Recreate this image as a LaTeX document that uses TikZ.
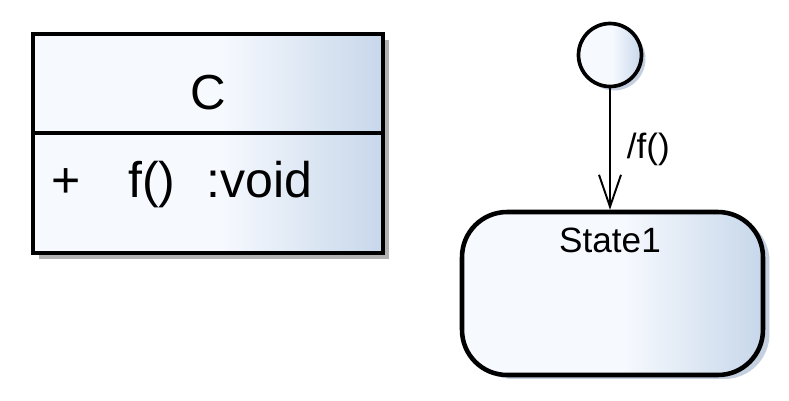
\documentclass[tikz,border=0pt]{standalone}
\usepackage{fontspec}
\setmainfont{Liberation Sans}
\usetikzlibrary{arrows.meta,shadows}
\definecolor{umllight}{RGB}{246,249,254}
\definecolor{umldark}{RGB}{199,215,234}
\definecolor{umlshadow}{RGB}{178,178,178}
\definecolor{stshadow}{RGB}{196,208,224}
\pgfdeclarehorizontalshading{umlfill}{100bp}{color(0bp)=(umllight); color(52bp)=(umllight); color(75bp)=(umldark); color(100bp)=(umldark)}
\tikzset{
  umlbox/.style={draw, line width=2.6pt, shading=umlfill, inner sep=0pt},
  clsbox/.style={umlbox, rectangle, minimum width=7.0cm, minimum height=4.38cm,
    drop shadow={shadow xshift=0.12cm, shadow yshift=-0.12cm, fill=umlshadow, opacity=1}},
  statebox/.style={umlbox, rectangle, rounded corners=0.9cm, minimum width=6.02cm, minimum height=3.26cm,
    drop shadow={shadow xshift=0.13cm, shadow yshift=-0.08cm, fill=stshadow, opacity=1}},
  initnode/.style={umlbox, circle, line width=2.1pt, minimum size=1.26cm,
    drop shadow={shadow xshift=0.08cm, shadow yshift=-0.08cm, fill=stshadow, opacity=1}},
  trans/.style={line width=1.1pt, -{Straight Barb[length=0.64cm, width=0.44cm, line width=1.1pt]}},
}

\begin{document}
\begin{tikzpicture}[x=0.02cm, y=-0.02cm]
  \useasboundingbox (0,0) rectangle (789,400);
  % class C
  \node[clsbox] (cls) at (208,143.5) {};
  \draw[line width=2.6pt] (cls.west |- 0,133) -- (cls.east |- 0,133);
  \node[font=\fontsize{28}{32}\selectfont] (cname) at (208,92.5) {C};
  \node[font=\fontsize{28.5}{32}\selectfont, anchor=base west, inner sep=0pt] (vis) at (51,197) {+};
  \node[font=\fontsize{28.5}{32}\selectfont, anchor=base west, inner sep=0pt] (op) at (128,197) {f()};
  \node[font=\fontsize{28.5}{32}\selectfont, anchor=base west, inner sep=0pt] (ret) at (206,197) {:void};
  % state machine
  \node[initnode] (init) at (610,55) {};
  \node[statebox] (st) at (612.5,293.5) {};
  \node[font=\fontsize{20}{24}\selectfont] (stname) at (610,240.5) {State1};
  \draw[trans] (init) -- node[right, pos=0.5, xshift=0.2cm, font=\fontsize{20}{24}\selectfont] (lbl) {/f()} (init |- st.north);
\end{tikzpicture}
\end{document}
